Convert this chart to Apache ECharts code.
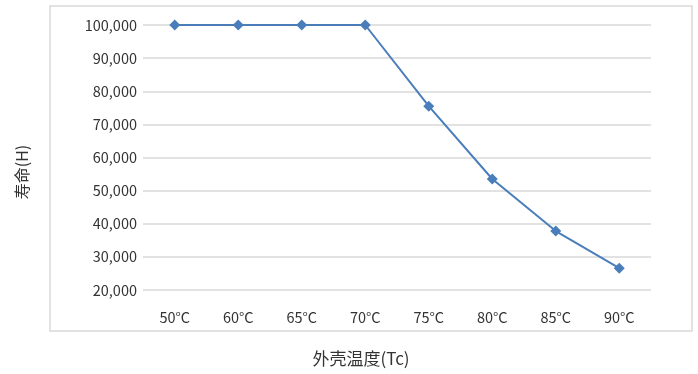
<!DOCTYPE html>
<html><head><meta charset="utf-8">
<script src="https://cdn.jsdelivr.net/npm/echarts@6/dist/echarts.min.js"></script>
<style>html,body{margin:0;padding:0;background:#fff}#c{width:698px;height:374px}</style>
</head><body><div id="c"></div>
<script>
const categories = ['50°C','60°C','65°C','70°C','75°C','80°C','85°C','90°C'];
const lifeHours = [100000,100000,100000,100000,75500,53500,37800,26600];
const yTicks = {min:20000,max:100000,interval:10000};
const xName = '外壳温度(Tc)';
const yName = '寿命(H)';

const font = '"Noto Sans CJK SC","Noto Sans",sans-serif';
const chart = echarts.init(document.getElementById('c'));
chart.setOption({
  animation:false,
  textStyle:{fontFamily:font},
  graphic:[
    {type:'rect',shape:{x:50,y:6,width:642,height:325},style:{fill:'none',stroke:'#d9d9d9',lineWidth:1.5},silent:true},
    {type:'text',x:361,y:359,style:{text:xName,fill:'#333',font:'17px '+font,textAlign:'center',textVerticalAlign:'middle'}},
    {type:'text',x:22,y:172,rotation:Math.PI/2,style:{text:yName,fill:'#333',font:'16px '+font,textAlign:'center',textVerticalAlign:'middle'}}
  ],
  grid:{left:143,right:47,top:25,bottom:84},
  xAxis:{type:'category',data:categories,boundaryGap:true,
    axisLine:{show:false},axisTick:{show:false},
    axisLabel:{color:'#333',fontSize:14.5,margin:20,fontFamily:font}},
  yAxis:{type:'value',min:yTicks.min,max:yTicks.max,interval:yTicks.interval,
    axisLine:{show:false},axisTick:{show:false},
    splitLine:{lineStyle:{color:'#d9d9d9',width:1.5}},
    axisLabel:{color:'#333',fontSize:14.5,margin:6,fontFamily:font,
      formatter:v=>v.toLocaleString('en-US')}},
  series:[{type:'line',data:lifeHours,symbol:'diamond',symbolSize:11,
    lineStyle:{color:'#4a7ebb',width:2},itemStyle:{color:'#4a7ebb'}}]
});
</script></body></html>
